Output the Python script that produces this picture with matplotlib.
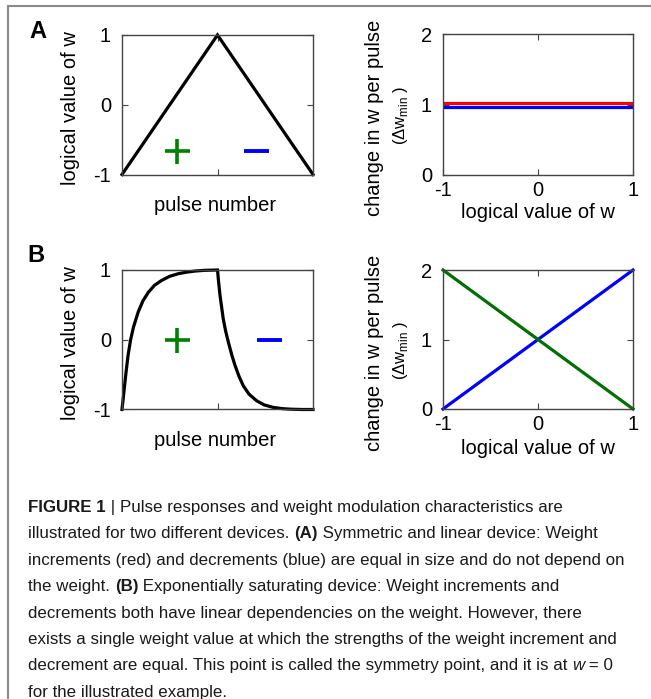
import matplotlib
matplotlib.use("Agg")
import matplotlib.pyplot as plt
from matplotlib import font_manager
from matplotlib.lines import Line2D

# --- data ---
pulse_a = [0.0, 0.5, 1.0]
w_a = [-1.0, 1.0, -1.0]

w_axis = [-1.0, 1.0]
inc_a = [1.02, 1.02]   # red
dec_a = [0.97, 0.97]   # blue

pulse_b = [0.0, 0.008, 0.015, 0.021, 0.032, 0.045, 0.06, 0.085, 0.11, 0.138,
           0.17, 0.207, 0.25, 0.295, 0.34, 0.382, 0.43, 0.5,
           0.505, 0.513, 0.52, 0.53, 0.543, 0.557, 0.575, 0.592, 0.612,
           0.635, 0.665, 0.705, 0.745, 0.792, 0.84, 0.88, 0.94, 1.0]
w_b = [-1.0, -0.80, -0.62, -0.47, -0.22, 0.0, 0.18, 0.40, 0.56, 0.68,
       0.78, 0.85, 0.91, 0.947, 0.97, 0.985, 0.995, 1.0,
       0.85, 0.64, 0.50, 0.30, 0.12, -0.036, -0.22, -0.37, -0.52,
       -0.66, -0.78, -0.875, -0.935, -0.97, -0.988, -0.995, -1.0, -1.0]

inc_b = [2.0, 0.0]     # green
dec_b = [0.0, 2.0]     # blue

caption = [
    [("FIGURE 1", "bold", "normal"), (" | ", "normal", "normal"),
     ("Pulse responses and weight modulation characteristics are", "normal", "normal")],
    [("illustrated for two different devices. ", "normal", "normal"), ("(A)", "bold", "normal"),
     (" Symmetric and linear device: Weight", "normal", "normal")],
    [("increments (red) and decrements (blue) are equal in size and do not depend on", "normal", "normal")],
    [("the weight. ", "normal", "normal"), ("(B)", "bold", "normal"),
     (" Exponentially saturating device: Weight increments and", "normal", "normal")],
    [("decrements both have linear dependencies on the weight. However, there", "normal", "normal")],
    [("exists a single weight value at which the strengths of the weight increment and", "normal", "normal")],
    [("decrement are equal. This point is called the symmetry point, and it is at ", "normal", "normal"),
     ("w", "normal", "italic"), (" = 0", "normal", "normal")],
    [("for the illustrated example.", "normal", "normal")],
]

names = {f.name for f in font_manager.fontManager.ttflist}
cap_font = "Liberation Sans Narrow" if "Liberation Sans Narrow" in names else "Liberation Sans"

plt.rcParams["font.family"] = ["Liberation Sans", "DejaVu Sans"]
plt.rcParams["mathtext.fontset"] = "custom"
plt.rcParams["mathtext.rm"] = "Liberation Sans"

W, H = 651, 699
fig = plt.figure(figsize=(W / 100, H / 100), dpi=100)

def box(x0, y0, x1, y1):
    return [x0 / W, 1 - y1 / H, (x1 - x0) / W, (y1 - y0) / H]

axA1 = fig.add_axes(box(122, 35, 313, 174.5))
axA2 = fig.add_axes(box(443, 34, 633, 175))
axB1 = fig.add_axes(box(122, 270, 313, 409.5))
axB2 = fig.add_axes(box(443, 270, 633, 409))

fs = 14.5
frame = "#444444"
for ax in (axA1, axA2, axB1, axB2):
    for s in ax.spines.values():
        s.set_color(frame)
        s.set_linewidth(1.0)
    ax.tick_params(direction="in", top=True, right=True, length=4, width=0.8,
                   color=frame, labelsize=fs, pad=8)

for ax, x, y in ((axA1, pulse_a, w_a), (axB1, pulse_b, w_b)):
    ax.plot(x, y, color="black", lw=2.3, solid_joinstyle="miter", clip_on=False)
    ax.set_xlim(0, 1)
    ax.set_ylim(-1, 1)
    ax.set_xticks([0.5])
    ax.set_xticklabels([])
    ax.set_yticks([-1, 0, 1])
    ax.set_yticklabels(["-1", "0", "1"])

axA1.plot([0.29], [-0.67], marker="+", ms=18, mew=2.6, color="#008000", ls="none")
axA1.plot([0.70], [-0.67], marker="_", ms=18, mew=2.8, color="blue", ls="none")
axB1.plot([0.29], [0.0], marker="+", ms=18, mew=2.6, color="#008000", ls="none")
axB1.plot([0.77], [0.0], marker="_", ms=18, mew=2.8, color="blue", ls="none")

axA2.plot(w_axis, inc_a, color="red", lw=2.3)
axA2.plot(w_axis, dec_a, color="blue", lw=2.3)
axB2.plot(w_axis, dec_b, color="blue", lw=2.3, clip_on=False)
axB2.plot(w_axis, inc_b, color="#007000", lw=2.3, clip_on=False)

for ax in (axA2, axB2):
    ax.set_xlim(-1, 1)
    ax.set_ylim(0, 2)
    ax.set_xticks([-1, 0, 1])
    ax.set_xticklabels(["-1", "0", "1"])
    ax.set_yticks([0, 1, 2])
    ax.set_yticklabels(["0", "1", "2"])
    ax.tick_params(axis="x", pad=4)

# axis labels placed in figure pixels
def ftext(x, y, s, **kw):
    fig.text(x / W, 1 - y / H, s, **kw)

for dy in (0, 235):
    ftext(70, 108 + dy, "logical value of w", rotation=90, ha="center", va="center", fontsize=fs)
    ftext(215, 205 + dy, "pulse number", ha="center", va="center", fontsize=fs)
    ftext(374, 118 + dy, "change in w per pulse", rotation=90, ha="center", va="center", fontsize=fs)
    ftext(401, 115 + dy, r"(Δw$_{\mathrm{min}}$ )", rotation=90, ha="center", va="center", fontsize=12)
    ftext(538, 213 + dy, "logical value of w", ha="center", va="center", fontsize=fs)

ftext(38, 32, "A", ha="center", va="center", fontsize=17, fontweight="bold")
ftext(36, 255, "B", ha="center", va="center", fontsize=17, fontweight="bold")

# border lines of the figure panel
fig.add_artist(Line2D([8 / W, 1], [1 - 6 / H, 1 - 6 / H], color="#8a8a8a", lw=1.5))
fig.add_artist(Line2D([8 / W, 8 / W], [1 - 6 / H, 0], color="#8a8a8a", lw=1.5))

# caption, segment by segment
cfs = 12.2
for i, line in enumerate(caption):
    y = 1 - (515 + i * 26.4) / H
    prev = None
    for text, weight, style in line:
        kw = dict(fontsize=cfs, fontweight=weight, fontstyle=style, family=[cap_font, "DejaVu Sans"],
                  color="#1a1a1a")
        if prev is None:
            prev = fig.text(28 / W, y, text, ha="left", va="bottom", **kw)
        else:
            prev = fig.add_artist(matplotlib.text.Annotation(
                text, xy=(1, 0), xycoords=prev, ha="left", va="bottom", **kw))

fig.savefig("out.png", dpi=100)
